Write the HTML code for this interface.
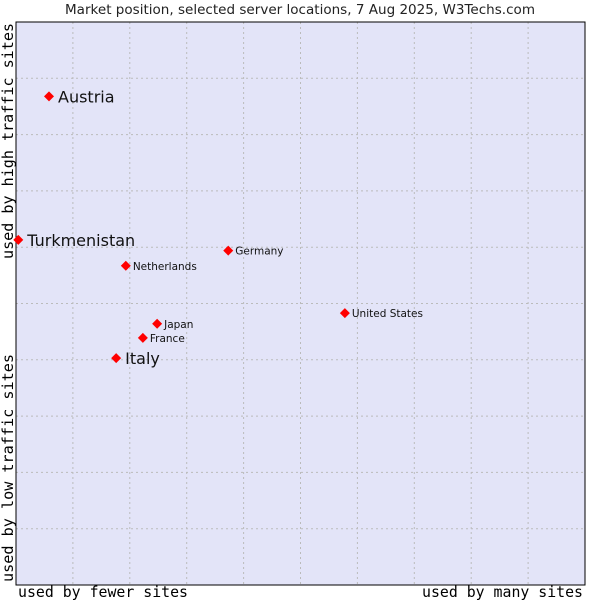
<!DOCTYPE html>
<html><head><meta charset="utf-8"><style>
body{margin:0;background:#fff;width:600px;height:600px;overflow:hidden}
svg text{font-family:"DejaVu Sans",sans-serif}
.mono{font-family:"DejaVu Sans Mono","Liberation Mono",monospace}
</style></head><body>
<svg id="chart" width="600" height="600">
<text x="65" y="14" font-size="13" textLength="470" lengthAdjust="spacingAndGlyphs" fill="#222">Market position, selected server locations, 7 Aug 2025, W3Techs.com</text>
<rect x="16" y="22" width="569" height="563" fill="#e3e4f8" stroke="none"/>
<g id="grid"></g>
<rect x="16" y="22" width="569" height="563" fill="none" stroke="#000" stroke-width="1"/>
<text class="mono" x="18" y="597" font-size="15" textLength="170" lengthAdjust="spacingAndGlyphs" fill="#000">used by fewer sites</text>
<text class="mono" x="422" y="597" font-size="15" textLength="161" lengthAdjust="spacingAndGlyphs" fill="#000">used by many sites</text>
<text class="mono" transform="translate(13,259) rotate(-90)" font-size="15" textLength="236" lengthAdjust="spacingAndGlyphs" fill="#000">used by high traffic sites</text>
<text class="mono" transform="translate(13,582) rotate(-90)" font-size="15" textLength="228" lengthAdjust="spacingAndGlyphs" fill="#000">used by low traffic sites</text>
<g id="points"></g>
</svg>
<script>
const names=["Austria","Turkmenistan","Netherlands","Germany","United States","Japan","France","Italy"];
const xVals=[5.8,0.4,19.3,37.3,57.8,24.8,22.3,17.6];
const yVals=[86.8,61.3,56.7,59.4,48.3,46.4,43.9,40.3];
const bigLabel=[true,true,false,false,false,false,false,true];
const ns="http://www.w3.org/2000/svg";
const X=v=>16+v*5.69, Y=v=>585-v*5.63;
const grid=document.getElementById('grid');
for(let i=1;i<10;i++){
  const v=document.createElementNS(ns,'line');
  v.setAttribute('x1',X(i*10));v.setAttribute('x2',X(i*10));v.setAttribute('y1',22);v.setAttribute('y2',585);
  v.setAttribute('stroke','#bbb');v.setAttribute('stroke-dasharray','2,3');
  
  
  grid.appendChild(v);
  const h=document.createElementNS(ns,'line');
  h.setAttribute('y1',Y(i*10));h.setAttribute('y2',Y(i*10));h.setAttribute('x1',16);h.setAttribute('x2',585);
  h.setAttribute('stroke','#bbb');h.setAttribute('stroke-dasharray','2,3');
  
  
  grid.appendChild(h);
}
const pts=document.getElementById('points');
names.forEach((n,i)=>{
  const cx=X(xVals[i]),cy=Y(yVals[i]);
  const d=document.createElementNS(ns,'path');
  d.setAttribute('d',`M${cx-5},${cy} L${cx},${cy-5} L${cx+5},${cy} L${cx},${cy+5}Z`);
  d.setAttribute('fill','#f00');
  
  
  pts.appendChild(d);
  const t=document.createElementNS(ns,'text');
  t.setAttribute('x',cx+(bigLabel[i]?9:7));
  t.setAttribute('y',cy+(bigLabel[i]?6:4));
  t.setAttribute('font-size',bigLabel[i]?'16':'10.5');
  t.setAttribute('fill','#111');
  t.textContent=n;
  
  
  pts.appendChild(t);
});
</script>
</body></html>
